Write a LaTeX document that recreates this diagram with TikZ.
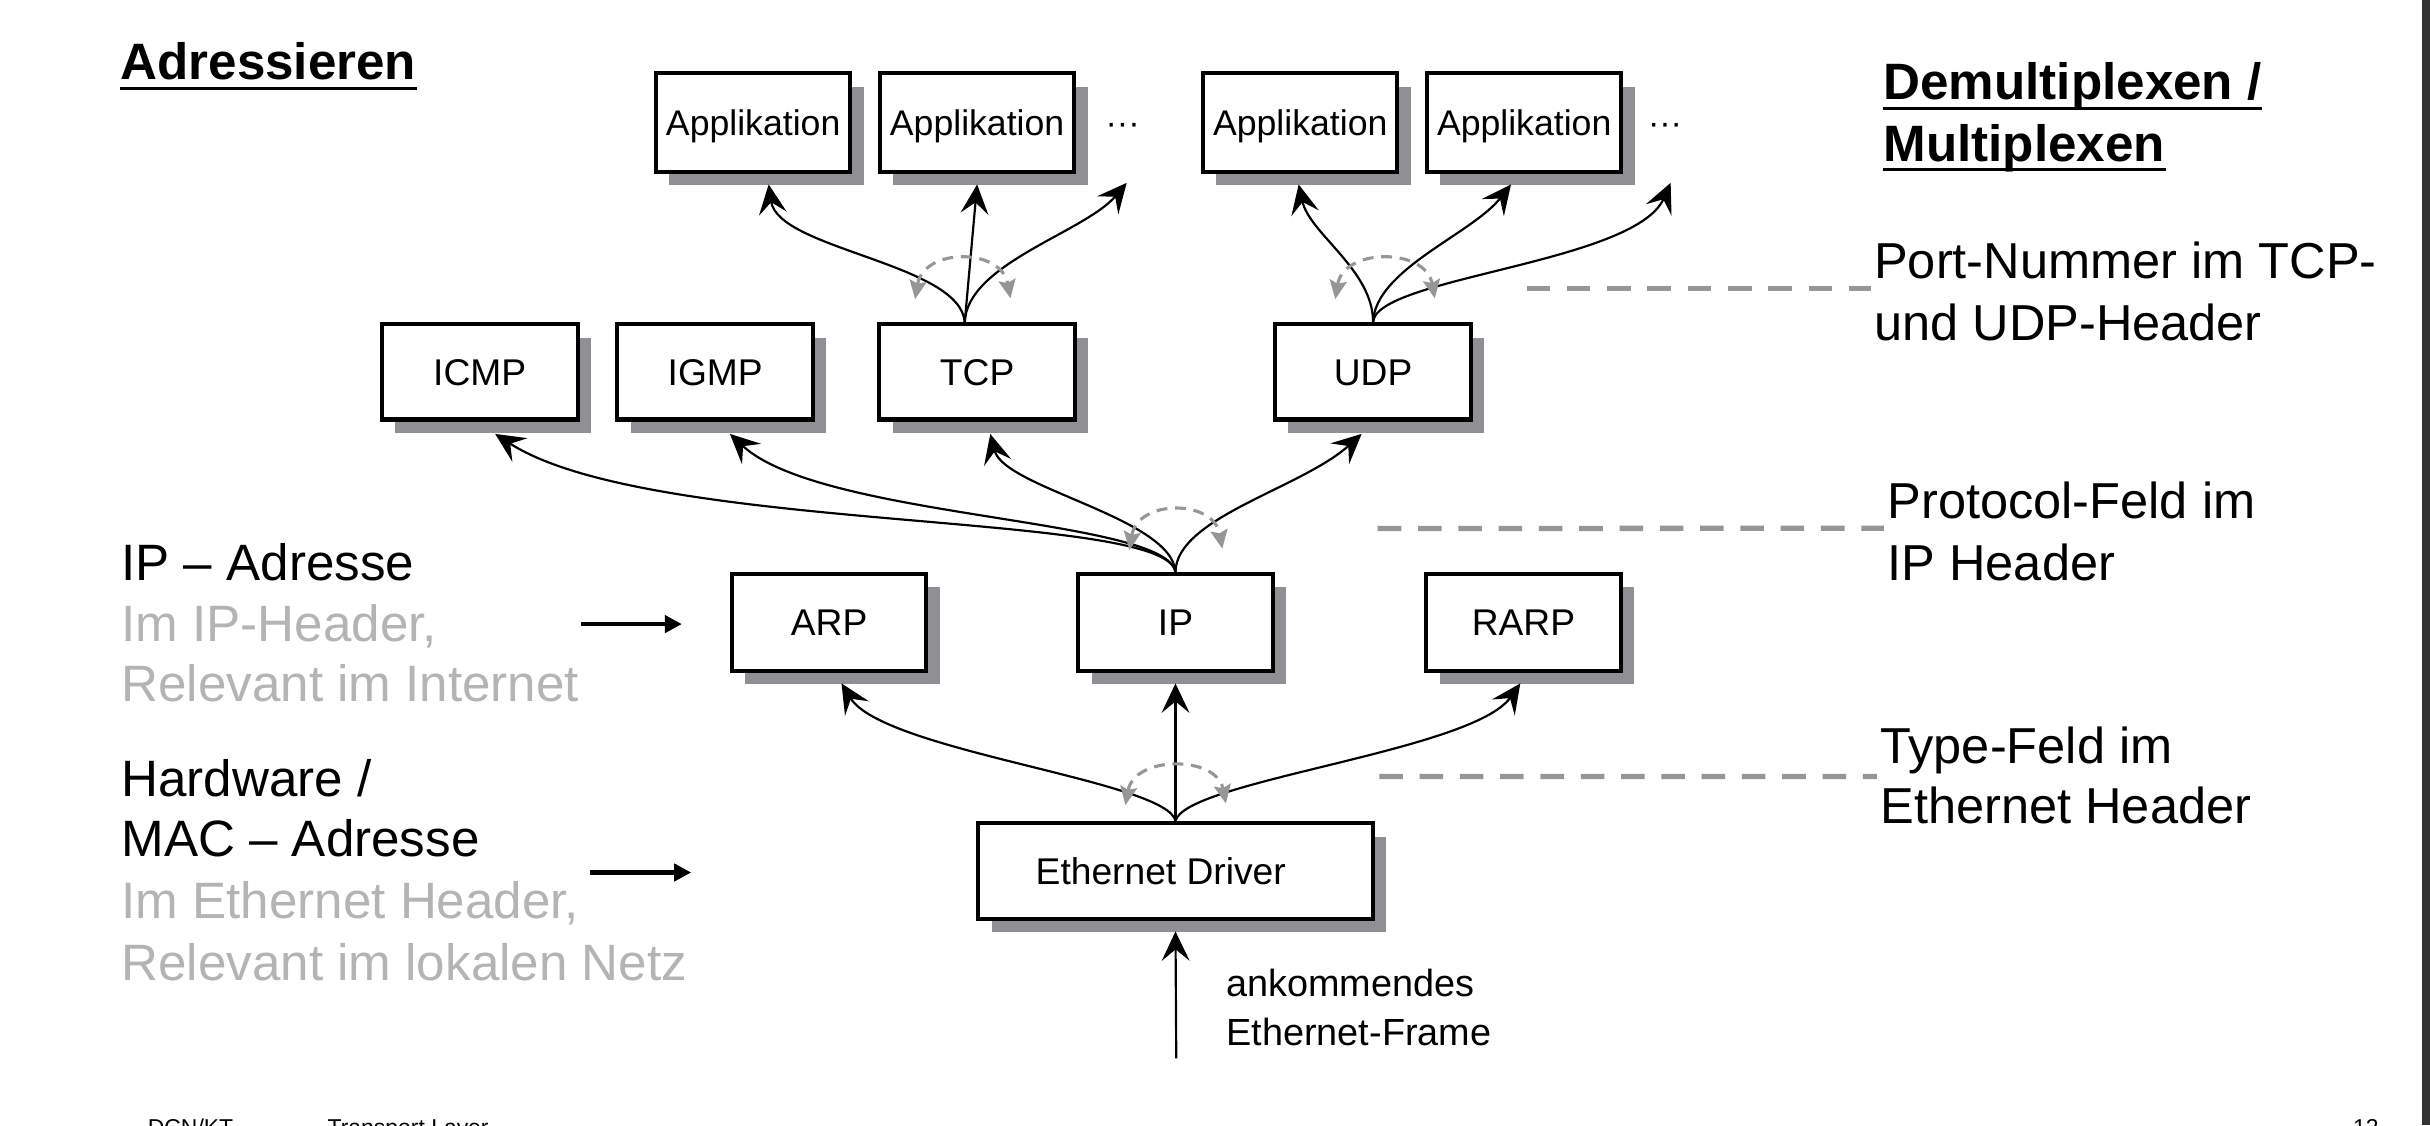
\documentclass[tikz,border=0pt]{standalone}
\usepackage{fontspec}
\setmainfont{Liberation Sans}
\usetikzlibrary{arrows.meta,shadows}
\definecolor{shadowgray}{RGB}{143,143,148}
\definecolor{dashgray}{RGB}{150,150,150}
\definecolor{textgray}{RGB}{180,180,180}
\definecolor{bargray}{RGB}{51,51,51}
\tikzset{
  box/.style={draw=black, line width=1.3pt, fill=white, inner sep=0pt,
    font=\fontsize{12}{14}\selectfont, text height=8.6pt, text depth=0pt,
    drop shadow={shadow xshift=4.3pt, shadow yshift=-4.3pt, fill=shadowgray, opacity=1}},
  appbox/.style={box, minimum width=62.7pt, minimum height=31.7pt,
    font=\fontsize{11.5}{14}\selectfont, text height=8.25pt},
  protbox/.style={box, minimum width=63.2pt, minimum height=30.7pt},
  ipbox/.style={box, minimum width=62.7pt, minimum height=31.2pt},
  conn/.style={line width=0.7pt, -{Stealth[length=9.5pt,width=9pt,inset=3.7pt]}},
  demux/.style={draw=dashgray, line width=1pt, dash pattern=on 3.5pt off 2.5pt,
    {Stealth[length=6pt,width=5.5pt,inset=1pt]}-{Stealth[length=6pt,width=5.5pt,inset=1pt]}},
  fieldline/.style={draw=dashgray, line width=1.7pt, dash pattern=on 7.6pt off 5.4pt},
  bigarrow/.style={line width=1.5pt, -{Triangle[length=5.5pt,width=5.5pt]}},
  bigtext/.style={anchor=base west, inner sep=0pt, font=\fontsize{16.5}{19.75}\selectfont},
  righttext/.style={anchor=base west, inner sep=0pt, font=\fontsize{16.3}{19.75}\selectfont},
  graytext/.style={bigtext, text=textgray},
  titletext/.style={anchor=base west, inner sep=0pt, font=\fontsize{16.5}{20}\selectfont\bfseries},
  dotstext/.style={anchor=base west, inner sep=0pt, font=\fontsize{11}{13}\selectfont},
  smalltext/.style={anchor=base west, inner sep=0pt, font=\fontsize{12.2}{14}\selectfont},
  footertext/.style={anchor=base west, inner sep=0pt, font=\fontsize{7.4}{9}\selectfont},
  uline/.style={line width=0.85pt}
}
\begin{document}
\begin{tikzpicture}[x=0.5pt, y=-0.5pt]
\useasboundingbox[fill=white] (0,0) rectangle (1568,726);
\fill[bargray] (1563,0) rectangle (1568,726);

% boxes
\node[appbox] (app1) at (486,79) {Applikation};
\node[appbox] (app2) at (630.5,79) {Applikation};
\node[appbox] (app3) at (839,79) {Applikation};
\node[appbox] (app4) at (983.5,79) {Applikation};
\node[dotstext] (dots1) at (713,87) {···};
\node[dotstext] (dots2) at (1063,87) {···};
\node[protbox] (icmp) at (309.5,240) {ICMP};
\node[protbox] (igmp) at (461.5,240) {IGMP};
\node[protbox] (tcp) at (630.5,240) {TCP};
\node[protbox] (udp) at (886,240) {UDP};
\node[ipbox] (arp) at (535,401.5) {ARP};
\node[ipbox] (ip) at (758.5,401.5) {IP};
\node[ipbox] (rarp) at (983,401.5) {RARP};
\node[box, minimum width=127.2pt, minimum height=30.7pt] (ed) at (758.5,562) {\hspace*{-9.5pt}Ethernet Driver};

\coordinate (tcpout) at ([xshift=-4pt]tcp.north);
\coordinate (d1tip) at (727,118);
\coordinate (d2tip) at (1078,118);
\coordinate (frame) at (759,683);

% TCP -> applications
\draw[conn] (tcpout) .. controls +(-2.5,-38) and +(6,42) .. ([xshift=5pt,yshift=-3.5pt]app1.south);
\draw[conn] (tcpout) -- ([yshift=-3.5pt]app2.south);
\draw[conn] (tcpout) .. controls +(1.5,-38) and +(-27,32) .. (d1tip);
% UDP -> applications
\draw[conn] (udp.north) .. controls +(0,-34) and +(7,32) .. ([xshift=-0.5pt,yshift=-3.5pt]app3.south);
\draw[conn] (udp.north) .. controls +(1,-34) and +(-25,32) .. ([xshift=-4.25pt,yshift=-3.5pt]app4.south);
\draw[conn] (udp.north) .. controls +(1,-29) and +(-23,52) .. (d2tip);
% IP -> transport
\draw[conn] (ip.north) .. controls +(-6.5,-40) and +(100.5,65) .. ([xshift=5pt,yshift=-4pt]icmp.south);
\draw[conn] (ip.north) .. controls +(-6.5,-35) and +(59,55) .. ([xshift=4.75pt,yshift=-4pt]igmp.south);
\draw[conn] (ip.north) .. controls +(-2.5,-35) and +(9,35) .. ([xshift=4.25pt,yshift=-4pt]tcp.south);
\draw[conn] (ip.north) .. controls +(0.5,-35) and +(-38.6,35) .. ([xshift=-3.7pt,yshift=-4pt]udp.south);
% Ethernet -> network
\draw[conn] (ed.north) .. controls +(-3.5,-26) and +(27,44) .. ([xshift=4pt,yshift=-3.5pt]arp.south);
\draw[conn] (ed.north) -- ([yshift=-3.5pt]ip.south);
\draw[conn] (ed.north) .. controls +(4.5,-26) and +(-31,44) .. ([xshift=-1pt,yshift=-3.5pt]rarp.south);
\draw[conn] (frame) -- ([yshift=-3.5pt]ed.south);

% demultiplexing arcs
\draw[demux] (590.5,193) .. controls (596,159.7) and (646,159.7) .. (652,192.5);
\draw[demux] (861.6,193) .. controls (867,159.7) and (920,159.7) .. (925.8,192.5);
\draw[demux] (728.8,355) .. controls (734,322) and (783,322) .. (788.7,354);
\draw[demux] (726.2,519.5) .. controls (732,487.3) and (785,487.3) .. (791,518.4);

% titles
\node[titletext] (adr) at (77.4,51.6) {Adressieren};
\draw[uline] ([yshift=-2.7pt]adr.base west) -- ([yshift=-2.7pt]adr.base east);
\node[titletext] (dm1) at (1215,64.5) {Demultiplexen /~};
\draw[uline] ([yshift=-2.7pt]dm1.base west) -- ([yshift=-2.7pt]dm1.base east);
\node[titletext] (dm2) at (1215,104) {Multiplexen~};
\draw[uline] ([yshift=-2.7pt]dm2.base west) -- ([yshift=-2.7pt]dm2.base east);

% right texts
\node[righttext] (port1) at (1209,179.6) {Port-Nummer im TCP-};
\node[righttext] (port2) at (1209,219.4) {und UDP-Header};
\node[righttext] (prot1) at (1217.6,334.5) {Protocol-Feld im};
\node[righttext] (prot2) at (1217.6,374.3) {IP Header};
\node[righttext] (type1) at (1213,492.5) {Type-Feld im};
\node[righttext] (type2) at (1213,531.3) {Ethernet Header};

\coordinate (portstart) at (985,186);
\coordinate (protstart) at (889,341);
\coordinate (typestart) at (890,501);
\draw[fieldline] (portstart) -- ([xshift=-1pt,yshift=-3.2pt]port1.base west);
\draw[fieldline] (protstart) -- ([xshift=-1pt,yshift=-3.2pt]prot1.base west);
\draw[fieldline] (typestart) -- ([xshift=-1pt,yshift=-4.3pt]type1.base west);

% left texts
\node[bigtext] (ipadr) at (78,374.3) {IP – Adresse};
\node[graytext] (ipadr2) at (78,414) {Im IP-Header,};
\node[graytext] (ipadr3) at (78,452.8) {Relevant im Internet};
\node[bigtext] (mac1) at (78,514) {Hardware /};
\node[bigtext] (mac2) at (78,552.8) {MAC – Adresse};
\node[graytext] (mac3) at (78,592.6) {Im Ethernet Header,};
\node[graytext] (mac4) at (78,632.4) {Relevant im lokalen Netz};

\coordinate (ipa1) at (375,402.7);
\coordinate (ipa2) at (440,402.7);
\draw[bigarrow] (ipa1) -- (ipa2);
\coordinate (maca1) at (381,563);
\coordinate (maca2) at (446,563);
\draw[bigarrow] (maca1) -- (maca2);

% incoming frame label
\node[smalltext] (ank1) at (791,642.7) {ankommendes};
\node[smalltext] (ank2) at (791,674.5) {Ethernet-Frame};

% footer (cut off at the lower edge, as in the reference)
\begin{scope}
\clip (0,0) rectangle (1568,726);
\node[footertext] (f1) at (95,732.6) {DCN/KT};
\node[footertext] (f2) at (211,732.6) {Transport Layer};
\node[footertext] (f3) at (1518,732.6) {12};
\end{scope}
\end{tikzpicture}
\end{document}
